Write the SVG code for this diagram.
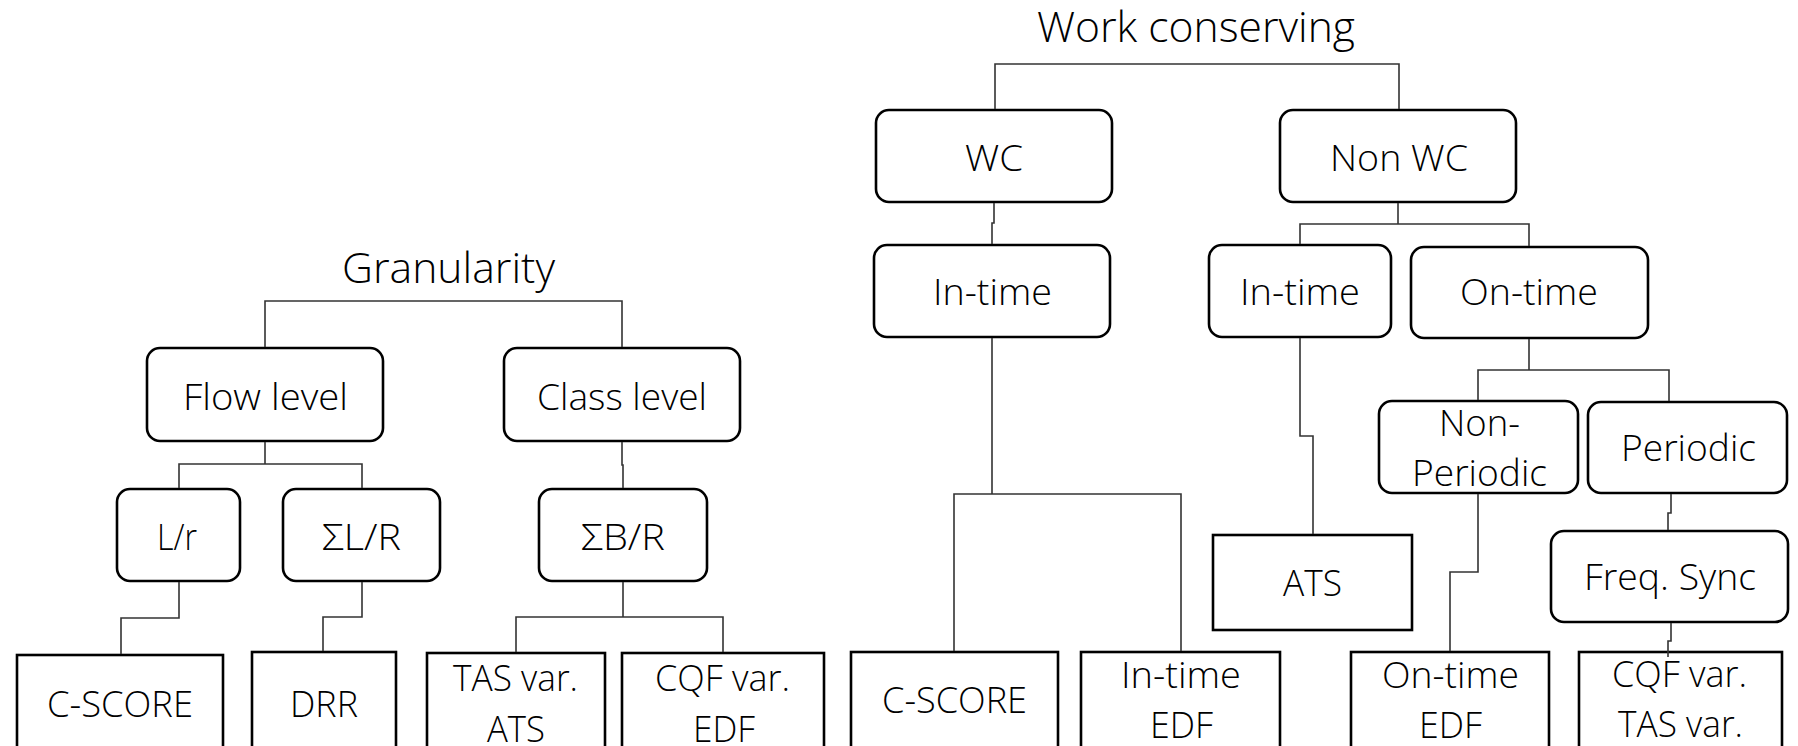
<svg xmlns="http://www.w3.org/2000/svg" width="1798" height="746" viewBox="0 0 1798 746">
  <style>
    .box { fill: #ffffff; stroke: #000000; stroke-width: 2.6; }
    .link { fill: none; stroke: #333333; stroke-width: 1.6; }
    text { font-family: "Open Sans", "Liberation Sans", sans-serif; font-weight: 300; fill: #000000; }
    .t { font-size: 37px; }
    .title { font-size: 42px; }
  </style>
  <rect width="1798" height="746" fill="#ffffff"/>

  <!-- Granularity tree -->
  <g id="granularity">
    <text class="title" x="342" y="283" textLength="213" lengthAdjust="spacingAndGlyphs">Granularity</text>
  </g>
  <g id="flow-level">
    <rect class="box" x="147" y="348" width="236" height="93" rx="13"/>
    <text class="t" x="183" y="410" textLength="165" lengthAdjust="spacingAndGlyphs">Flow level</text>
  </g>
  <g id="class-level">
    <rect class="box" x="504" y="348" width="236" height="93" rx="13"/>
    <text class="t" x="537" y="410" textLength="170" lengthAdjust="spacingAndGlyphs">Class level</text>
  </g>
  <g id="l-over-r">
    <rect class="box" x="117" y="489" width="123" height="92" rx="13"/>
    <text class="t" x="157" y="550" textLength="40" lengthAdjust="spacingAndGlyphs">L/r</text>
  </g>
  <g id="sum-l-over-r">
    <rect class="box" x="283" y="489" width="157" height="92" rx="13"/>
    <text class="t" x="322" y="550" textLength="79" lengthAdjust="spacingAndGlyphs">ΣL/R</text>
  </g>
  <g id="sum-b-over-r">
    <rect class="box" x="539" y="489" width="168" height="92" rx="13"/>
    <text class="t" x="581" y="550" textLength="84" lengthAdjust="spacingAndGlyphs">ΣB/R</text>
  </g>
  <g id="c-score-flow">
    <rect class="box" x="17" y="655" width="206" height="110"/>
    <text class="t" x="47" y="717" textLength="146" lengthAdjust="spacingAndGlyphs">C-SCORE</text>
  </g>
  <g id="drr">
    <rect class="box" x="252" y="652" width="144" height="110"/>
    <text class="t" x="290" y="717" textLength="68" lengthAdjust="spacingAndGlyphs">DRR</text>
  </g>
  <g id="tas-var-ats">
    <rect class="box" x="427" y="653" width="178" height="110"/>
    <text class="t" x="453" y="691" textLength="125" lengthAdjust="spacingAndGlyphs">TAS var.</text>
    <text class="t" x="487" y="742" textLength="58" lengthAdjust="spacingAndGlyphs">ATS</text>
  </g>
  <g id="cqf-var-edf">
    <rect class="box" x="622" y="653" width="202" height="110"/>
    <text class="t" x="655" y="691" textLength="135" lengthAdjust="spacingAndGlyphs">CQF var.</text>
    <text class="t" x="693" y="742" textLength="62" lengthAdjust="spacingAndGlyphs">EDF</text>
  </g>

  <!-- Work conserving tree -->
  <g id="work-conserving">
    <text class="title" x="1037" y="42" textLength="318" lengthAdjust="spacingAndGlyphs">Work conserving</text>
  </g>
  <g id="wc">
    <rect class="box" x="876" y="110" width="236" height="92" rx="13"/>
    <text class="t" x="965" y="171" textLength="58" lengthAdjust="spacingAndGlyphs">WC</text>
  </g>
  <g id="non-wc">
    <rect class="box" x="1280" y="110" width="236" height="92" rx="13"/>
    <text class="t" x="1330" y="171" textLength="138" lengthAdjust="spacingAndGlyphs">Non WC</text>
  </g>
  <g id="wc-in-time">
    <rect class="box" x="874" y="245" width="236" height="92" rx="13"/>
    <text class="t" x="933" y="305" textLength="119" lengthAdjust="spacingAndGlyphs">In-time</text>
  </g>
  <g id="nwc-in-time">
    <rect class="box" x="1209" y="245" width="182" height="92" rx="13"/>
    <text class="t" x="1240" y="305" textLength="120" lengthAdjust="spacingAndGlyphs">In-time</text>
  </g>
  <g id="nwc-on-time">
    <rect class="box" x="1411" y="247" width="237" height="91" rx="13"/>
    <text class="t" x="1460" y="305" textLength="138" lengthAdjust="spacingAndGlyphs">On-time</text>
  </g>
  <g id="non-periodic">
    <rect class="box" x="1379" y="401" width="199" height="92" rx="13"/>
    <text class="t" x="1439" y="436" textLength="81" lengthAdjust="spacingAndGlyphs">Non-</text>
    <text class="t" x="1412" y="486" textLength="135" lengthAdjust="spacingAndGlyphs">Periodic</text>
  </g>
  <g id="periodic">
    <rect class="box" x="1588" y="402" width="199" height="91" rx="13"/>
    <text class="t" x="1621" y="461" textLength="135" lengthAdjust="spacingAndGlyphs">Periodic</text>
  </g>
  <g id="freq-sync">
    <rect class="box" x="1551" y="531" width="237" height="91" rx="13"/>
    <text class="t" x="1584" y="590" textLength="172" lengthAdjust="spacingAndGlyphs">Freq. Sync</text>
  </g>
  <g id="c-score-wc">
    <rect class="box" x="851" y="652" width="207" height="110"/>
    <text class="t" x="882" y="713" textLength="145" lengthAdjust="spacingAndGlyphs">C-SCORE</text>
  </g>
  <g id="in-time-edf">
    <rect class="box" x="1081" y="652" width="199" height="110"/>
    <text class="t" x="1121" y="688" textLength="120" lengthAdjust="spacingAndGlyphs">In-time</text>
    <text class="t" x="1150" y="738" textLength="63" lengthAdjust="spacingAndGlyphs">EDF</text>
  </g>
  <g id="ats">
    <rect class="box" x="1213" y="535" width="199" height="95"/>
    <text class="t" x="1283" y="596" textLength="59" lengthAdjust="spacingAndGlyphs">ATS</text>
  </g>
  <g id="on-time-edf">
    <rect class="box" x="1351" y="652" width="198" height="110"/>
    <text class="t" x="1382" y="688" textLength="137" lengthAdjust="spacingAndGlyphs">On-time</text>
    <text class="t" x="1419" y="738" textLength="63" lengthAdjust="spacingAndGlyphs">EDF</text>
  </g>
  <g id="cqf-var-tas-var">
    <rect class="box" x="1579" y="652" width="203" height="110"/>
    <text class="t" x="1612" y="687" textLength="135" lengthAdjust="spacingAndGlyphs">CQF var.</text>
    <text class="t" x="1618" y="737" textLength="125" lengthAdjust="spacingAndGlyphs">TAS var.</text>
  </g>

  <!-- Elbow connectors -->
  <g id="connectors" class="link">
    <path class="link" d="M265,347 V301 H622 V347"/>
    <path class="link" d="M265,442 V464 M179,488 V464 H362 V488"/>
    <path class="link" d="M622,442 V465 H623 V488"/>
    <path class="link" d="M179,582 V618 H121 V654"/>
    <path class="link" d="M362,582 V617 H323 V651"/>
    <path class="link" d="M623,582 V617 M516,652 V617 H723 V652"/>

    <path class="link" d="M995,109 V64 H1399 V109"/>
    <path class="link" d="M994,203 V223 H992 V244"/>
    <path class="link" d="M992,338 V494 M954,651 V494 H1181 V651"/>
    <path class="link" d="M1398,203 V224 M1300,244 V224 H1529 V246"/>
    <path class="link" d="M1300,338 V436 H1313 V534"/>
    <path class="link" d="M1529,339 V370 M1478,400 V370 H1669 V401"/>
    <path class="link" d="M1478,494 V572 H1450 V651"/>
    <path class="link" d="M1671,494 V513 H1668 V530"/>
    <path class="link" d="M1671,623 V641 H1668 V657"/>
  </g>
</svg>
